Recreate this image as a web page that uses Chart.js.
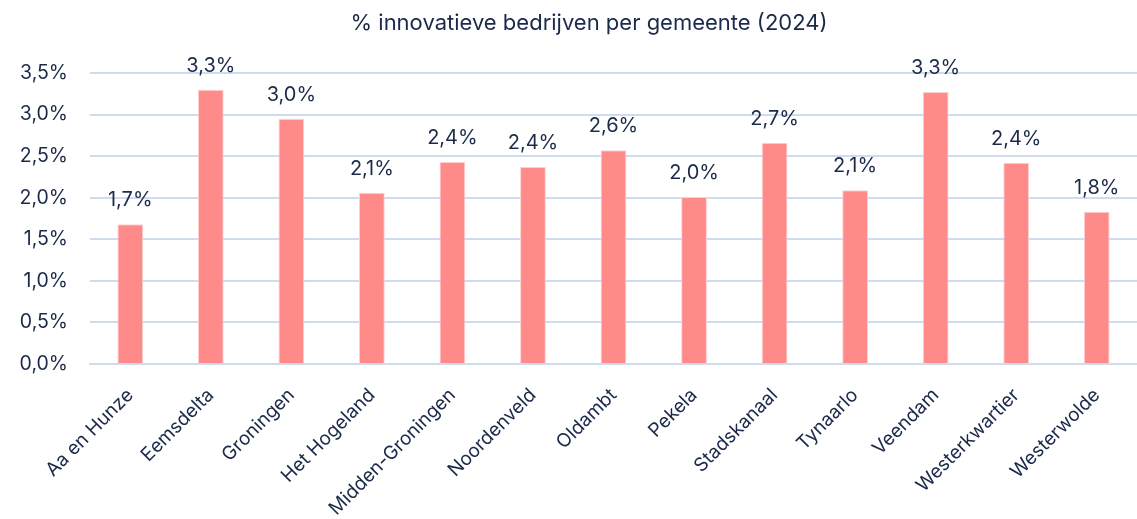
<!DOCTYPE html>
<html>
<head>
<meta charset="utf-8">
<script src="https://cdn.jsdelivr.net/npm/chart.js@4.4.1/dist/chart.umd.min.js"></script>
<style>
  html, body { margin:0; padding:0; background:#fff; }
  #wrap { position:relative; width:1137px; height:519px; }
</style>
</head>
<body>
<div id="wrap"><canvas id="c"></canvas></div>
<script>
// data (percent)
const gemeenten = [
  "Aa en Hunze","Eemsdelta","Groningen","Het Hogeland","Midden-Groningen",
  "Noordenveld","Oldambt","Pekela","Stadskanaal","Tynaarlo",
  "Veendam","Westerkwartier","Westerwolde"
];
const pctInnovatief = [1.68, 3.30, 2.95, 2.06, 2.43, 2.37, 2.57, 2.01, 2.66, 2.09, 3.27, 2.42, 1.83];
const yTicks = [0, 0.5, 1, 1.5, 2, 2.5, 3, 3.5];
const TITLE = "% innovatieve bedrijven per gemeente (2024)";

const INK = "#1b2a4a";
const FONT = "Inter, 'Liberation Sans', sans-serif";
const nl = v => (Math.round(v * 10) / 10).toFixed(1).replace(".", ",") + "%";

// value labels above bars + title (slightly right of canvas centre, like the source)
const barLabels = {
  id: "barLabels",
  afterDatasetsDraw(chart) {
    const ctx = chart.ctx;
    const meta = chart.getDatasetMeta(0);
    ctx.save();
    ctx.fillStyle = INK;
    ctx.textAlign = "center";
    ctx.textBaseline = "alphabetic";
    ctx.font = `20px ${FONT}`;
    meta.data.forEach((bar, i) => {
      ctx.fillText(nl(pctInnovatief[i]), bar.x, bar.y - 18);
    });
    ctx.font = `22px ${FONT}`;
    ctx.textBaseline = "middle";
    ctx.fillText(TITLE, 589, 23);
    ctx.restore();
  }
};

new Chart(document.getElementById("c"), {
  type: "bar",
  data: {
    labels: gemeenten,
    datasets: [{
      data: pctInnovatief,
      backgroundColor: "#ff8a8a",
      borderColor: "#ffd0d0",
      borderWidth: 1,
      barPercentage: 0.32,
      categoryPercentage: 1
    }]
  },
  options: {
    responsive: true, maintainAspectRatio: false, animation: false,
    layout: { padding: { top: 73, left: 0, right: 0, bottom: 0 } },
    plugins: {
      legend: { display: false },
      tooltip: { enabled: false },
      title: { display: false }
    },
    scales: {
      x: {
        grid: { display: false },
        border: { color: "#cfdcef", width: 2 },
        ticks: {
          color: INK, font: { family: FONT, size: 19 },
          minRotation: 45, maxRotation: 45, autoSkip: false, padding: 12
        },
        afterFit: s => { s.height = 155; }
      },
      y: {
        min: 0, max: 3.5,
        afterBuildTicks: s => { s.ticks = yTicks.map(v => ({ value: v })); },
        grid: { color: "#cfdcef", lineWidth: 2, drawTicks: false },
        border: { display: false },
        ticks: {
          color: INK, font: { family: FONT, size: 19.5 }, padding: 22,
          callback: v => nl(v)
        },
        afterFit: s => { s.width = 90; }
      }
    }
  },
  plugins: [barLabels]
});
</script>
</body>
</html>
